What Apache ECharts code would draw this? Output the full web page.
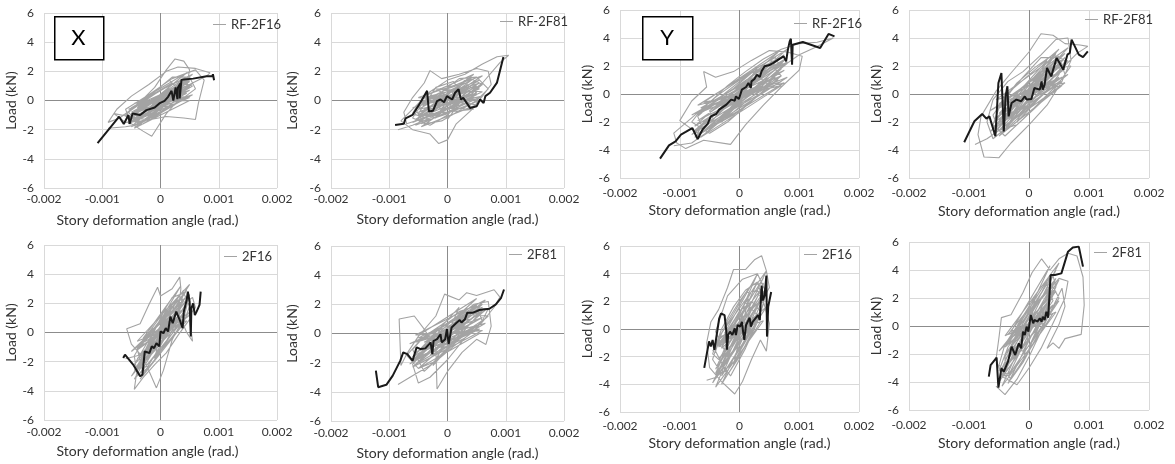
<!DOCTYPE html>
<html><head><meta charset="utf-8">
<script src="https://cdn.jsdelivr.net/npm/echarts@6/dist/echarts.min.js"></script>
<style>html,body{margin:0;padding:0;background:#fff}#c{width:1175px;height:464px}</style>
</head><body><div id="c"></div>
<script>
const xTicks = [-0.002, -0.001, 0, 0.001, 0.002];
const yTicks = [-6, -4, -2, 0, 2, 4, 6];
const seriesNames = ['RF-2F16', 'RF-2F81', 'RF-2F16', 'RF-2F81', '2F16', '2F81', '2F16', '2F81'];
const xTitle = 'Story deformation angle (rad.)';
const yTitle = 'Load (kN)';
const boxLabels = ['X', 'Y'];

// Panel 1: X, RF-2F16
const p1Black = [[-0.00108,-2.93],[-0.00071,-1.11],[-0.00063,-1.61],[-0.00055,-1.0],[-0.00053,-1.61],[-0.00048,-0.89],[-0.00035,-1.0],[-0.00024,-0.66],[-0.0001,-0.48],[-0.00002,-0.2],[0.00007,-0.02],[0.00013,0.25],[0.00019,0.66],[0.00022,0.0],[0.00026,0.89],[0.00029,0.09],[0.0003,0.89],[0.00034,1.16],[0.00033,0.14],[0.00036,1.43],[0.00056,1.5],[0.00079,1.66],[0.00089,1.66],[0.0009,1.8],[0.00092,1.39]];
const p1Grey = [[-0.0009,-1.9],[-0.0006,-1.8],[-0.0003,-1.6],[0,-0.9],[0.0003,0.2],[0.00055,1.2],[0.0008,1.7],[0.00085,1.9],[0.0006,2.2],[0.0003,2.3],[0.0001,2.0],[-0.0002,1.1],[-0.0005,0.3],[-0.00075,-0.6],[-0.0009,-1.5],
[-0.0007,-1.2],[-0.0004,-0.3],[-0.0001,0.9],[0.0001,2.1],[0.00025,2.85],[0.0004,2.7],[0.0005,2.1],[0.00045,1.0],[0.0003,0],[0.0001,-0.9],[-0.00015,-2.45],[-0.0003,-2.1],[-0.0005,-1.6],
[-0.0006,-0.6],[-0.0002,0.4],[0.0002,1.5],[0.0006,2.1],[0.00075,1.4],[0.00065,-0.2],[0.0006,-1.3],[0.0004,-1.2],[0.0001,-1.1],[-0.0003,-1.4],[-0.0006,-1.5],[-0.0008,-0.9],
[-0.0004,-1.2],[0.0003,0.9],[-0.0003,-0.4],[0.0004,0.5],[-0.0002,-1.0],[0.0002,1.2],[-0.0004,-0.2],[0.00045,0.2],[-0.0001,-0.6],[0.0002,0.6],[-0.00025,-0.9],[0.00035,1.1],[-0.0005,-0.8],[0.0001,0.3],[-0.00015,0.1],[0.00025,-0.3],[-0.00035,-0.7],[0.0005,1.4],
[-0.00045,-1.3],[-0.0001,-0.8],[0.0002,0.1],[0.0005,0.9],[0.0004,1.5],[0.0001,0.9],[-0.0002,0.2],[-0.0005,-0.5],[-0.0006,-1.1],[-0.0003,-1.0],[0,-0.3],[0.0003,0.4],[0.00055,1.0],[0.0003,1.3],[0,0.7],[-0.0003,-0.1],[-0.00055,-0.8],[-0.0004,-1.5],[-0.0001,-1.1],[0.0002,-0.4],[0.0004,0.2],[0.0006,0.8],[0.0005,1.6],[0.0002,1.6],[-0.0001,0.6],[-0.0004,-0.3],[-0.0006,-1.0],[-0.00035,-1.5],[0,-0.6],[0.00035,0.6],[0.00015,1.4],[-0.00015,0.5],[-0.0005,-1.2],[-0.0002,-1.3],[0.0001,-0.2],[0.0004,0.9],[0.0002,0.4],[-0.0002,-0.5],[-0.00045,-0.9],[0.00005,0.5],[0.0003,1.0],[-0.00005,-0.2],[0,0]];
const p1Core = [[-0.0005,-1.8],[0.0005,0.3],[-0.00045,-0.2],[0.00055,1.8],[-0.0005,-1.4],[0.0005,0.7],[-0.0004,-0.5],[0.0005,1.5],[-0.00055,-1.6],[0.00045,0.5],[-0.0005,-0.9],[0.00055,1.2],[-0.00045,-1.9],[0.0005,0.0],[-0.0004,-0.1],[0.00045,1.9],[-0.0005,-1.2],[0.0005,0.9],[-0.00055,-0.6],[0.0005,1.1],[-0.0004,-1.7],[0.00055,0.4],[-0.00045,-0.8],[0.00045,1.6],[-0.0005,-1.5],[0.0005,0.2],[-0.00045,-0.4],[0.0005,1.3],[0,0]];

// Panel 2: X, RF-2F81
const p2Black = [[-0.0009,-1.68],[-0.00075,-1.6],[-0.00072,-1.22],[-0.0006,-0.99],[-0.00047,-0.17],[-0.00035,0.66],[-0.00032,-0.75],[-0.00025,-0.71],[-0.00018,-0.05],[-0.00012,0.07],[-0.00006,-0.12],[-0.00001,0.3],[0.00008,0.07],[0.00013,0.53],[0.00019,0.77],[0.00023,0.07],[0.00027,0.18],[0.00039,-0.52],[0.0005,-0.4],[0.00056,0.07],[0.00062,-0.17],[0.00065,0.3],[0.00073,0.53],[0.00085,1.23],[0.00096,2.98]];
const p2Grey = [[-0.00085,-2.0],[-0.0006,-1.7],[-0.0003,-1.2],[0,-0.6],[0.0003,0.3],[0.0006,1.2],[0.0009,2.6],[0.00105,3.1],[0.00085,3.0],[0.0006,2.5],[0.0003,1.8],[0,1.4],[-0.0003,0.6],[-0.00055,-0.4],[-0.0008,-1.4],
[-0.0006,-2.0],[-0.0003,-2.3],[-0.00015,-2.95],[0,-2.7],[0.00015,-1.6],[0.0004,-0.7],[0.0006,0.3],[0.00075,1.1],[0.0007,2.0],[0.0005,2.2],[0.0002,1.8],[-0.0001,1.5],[-0.0003,2.05],[-0.0004,1.2],[-0.0006,0.2],[-0.00075,-0.8],[-0.0007,-1.6],
[-0.0004,-1.2],[0.0003,0.9],[-0.0003,0.3],[0.0004,-0.3],[-0.0002,-1.1],[0.0002,1.0],[-0.00045,-0.2],[0.0005,0.4],[-0.0001,-0.8],[0.0003,1.4],[-0.00025,-0.5],[0.00045,-0.6],[-0.0005,-1.0],[0.0001,0.8],[0,-1.3],[0.0002,-0.2],[-0.0002,0.8],[0.0006,0.6],
[-0.0005,-1.4],[-0.0002,-0.9],[0.0001,-0.3],[0.0004,0.4],[0.0006,1.1],[0.0004,1.5],[0.0001,1.0],[-0.0002,0.4],[-0.0005,-0.2],[-0.0006,-0.9],[-0.0003,-1.3],[0,-0.9],[0.0003,-0.2],[0.0005,0.6],[0.0003,1.2],[0,0.8],[-0.0003,0.1],[-0.00055,-0.6],[-0.0004,-1.6],[-0.0001,-1.4],[0.0002,-0.7],[0.0005,0],[0.0007,0.8],[0.0005,1.6],[0.0002,1.5],[-0.0001,0.6],[-0.0004,0],[-0.0006,-1.2],[-0.0003,-1.7],[0,-1.0],[0.0003,0.3],[0.0001,1.3],[-0.0002,0.9],[-0.0005,-0.9],[-0.0002,-1.2],[0.0001,0.2],[0.0004,1.0],[0.0002,0.5],[-0.0002,-0.5],[-0.0004,-0.6],[0.0001,0.4],[0.0003,0.8],[0,-0.3],[0,0]];
const p2Core = [[-0.00055,-1.7],[0.00055,0.0],[-0.0005,0.2],[0.0006,1.7],[-0.00055,-1.3],[0.0005,0.5],[-0.00045,-0.3],[0.00055,1.4],[-0.0006,-1.5],[0.00045,0.2],[-0.0005,-0.8],[0.0006,1.1],[-0.00045,-1.8],[0.0005,-0.3],[-0.0004,0.3],[0.00045,1.8],[-0.0005,-1.1],[0.00055,0.8],[-0.0006,-0.5],[0.0005,1.0],[-0.00045,-1.6],[0.0006,0.3],[-0.0005,-0.6],[0.00045,1.5],[-0.00055,-1.4],[0.0005,0.1],[-0.00045,-0.1],[0.00055,1.2],[0,0]];

// Panel 3: Y, RF-2F16
const p3Black = [[-0.00133,-4.62],[-0.00118,-3.67],[-0.00107,-3.38],[-0.00098,-2.9],[-0.0009,-2.71],[-0.00079,-2.43],[-0.0007,-3.21],[-0.00062,-2.55],[-0.00053,-2.12],[-0.00048,-1.6],[-0.00039,-1.43],[-0.00034,-1.12],[-0.00022,-0.76],[-0.00014,-0.4],[-0.00008,-0.48],[-0.00006,-0.17],[-0.00001,-0.36],[0.00004,0.31],[0.00011,0.5],[0.00015,0.79],[0.00019,0.43],[0.0002,0.9],[0.00025,1.07],[0.00029,1.38],[0.00034,1.21],[0.00037,1.62],[0.00042,1.98],[0.00049,2.05],[0.00056,2.21],[0.00065,2.45],[0.00074,2.69],[0.00078,2.33],[0.00081,3.17],[0.00084,3.76],[0.00086,3.95],[0.00088,2.1],[0.00089,3.52],[0.00106,3.71],[0.00135,3.29],[0.00149,4.29],[0.00159,4.12]];
const p3Grey = [[-0.0011,-3.7],[-0.0008,-3.5],[-0.0005,-2.6],[-0.0002,-1.5],[0.0001,-0.3],[0.0004,0.8],[0.0007,1.9],[0.001,2.8],[0.0013,3.4],[0.00157,4.0],[0.0013,3.7],[0.001,3.6],[0.0007,3.2],[0.0004,2.5],[0.0001,1.6],[-0.0002,0.6],[-0.0005,-0.6],[-0.0008,-1.7],[-0.0011,-2.8],[-0.00105,-3.5],
[-0.0009,-3.9],[-0.0006,-3.3],[-0.00015,-3.6],[0.0001,-2.2],[0.0004,-0.8],[0.0007,0.5],[0.001,1.7],[0.00105,2.7],[0.0008,3.0],[0.0005,3.1],[0.0002,2.4],[-0.0001,1.6],[-0.0004,1.2],[-0.0006,1.6],[-0.00055,0.5],[-0.0008,-0.5],[-0.001,-1.9],[-0.0007,-2.8],
[-0.0006,-2.0],[0.0005,1.8],[-0.0004,-1.0],[0.0006,1.2],[-0.0003,-2.0],[0.0003,1.9],[-0.0007,-1.5],[0.0007,2.2],[-0.0002,-0.4],[0.0004,0.6],[-0.0005,-1.7],[0.0002,0.9],[-0.0001,-1.1],[0.0008,2.6],[-0.00035,-0.3],[0.00015,0.2],[-0.00045,-2.4],[0.00055,2.4],
[-0.0007,-2.9],[-0.0004,-2.0],[-0.0001,-1.0],[0.0002,0],[0.0005,1.0],[0.0007,1.8],[0.0006,2.6],[0.0003,1.9],[0,1.0],[-0.0003,0.1],[-0.0006,-0.9],[-0.0008,-2.0],[-0.0005,-2.8],[-0.0002,-2.0],[0.0001,-0.9],[0.0004,0.2],[0.0007,1.3],[0.0005,2.2],[0.0002,1.5],[-0.0001,0.4],[-0.0004,-0.5],[-0.0007,-1.6],[-0.0006,-2.6],[-0.0003,-1.9],[0,-0.5],[0.0003,0.5],[0.0006,1.5],[0.0008,2.2],[0.0004,2.0],[0.0001,0.8],[-0.0002,-0.2],[-0.0005,-1.2],[-0.0004,-2.2],[-0.0001,-1.5],[0.0002,-0.5],[0.0005,0.6],[0.0003,1.3],[-0.0001,0.1],[-0.0004,-1.4],[0.0001,0.3],[0.0004,1.5],[-0.0003,-0.9],[0,0]];
const p3Core = [[-0.00075,-3.1],[0.00075,0.8],[-0.0007,-0.8],[0.0008,3.2],[-0.00075,-2.6],[0.0007,1.3],[-0.00065,-1.2],[0.00075,2.8],[-0.0008,-2.9],[0.00065,1.0],[-0.0007,-1.9],[0.0008,2.3],[-0.00065,-3.1],[0.0007,0.6],[-0.0006,-0.6],[0.00065,3.0],[-0.00075,-2.3],[0.00075,1.7],[-0.0008,-1.5],[0.0007,2.1],[-0.00065,-2.8],[0.0008,1.2],[-0.0007,-1.4],[0.00065,2.6],[-0.00075,-2.7],[0.0007,0.9],[-0.00065,-1.0],[0.00075,2.4],[0,0]];

// Panel 4: Y, RF-2F81
const p4Black = [[-0.00108,-3.45],[-0.00091,-1.95],[-0.00078,-1.43],[-0.00071,-1.76],[-0.00066,-1.6],[-0.00056,-3.02],[-0.00051,0.79],[-0.00046,1.5],[-0.00042,-2.67],[-0.00039,-0.17],[-0.00036,0.55],[-0.00034,-1.6],[-0.00029,-0.64],[-0.00021,-0.4],[-0.00013,-0.52],[-0.00007,-0.17],[-0.00004,-0.4],[0.00004,-0.36],[0.00009,0.43],[0.00018,0.31],[0.00021,0.9],[0.00023,0.31],[0.00026,0.67],[0.0003,1.86],[0.00037,1.26],[0.00046,2.57],[0.00051,2.21],[0.00057,1.74],[0.00064,2.81],[0.00068,2.93],[0.00071,3.88],[0.00083,2.81],[0.0009,2.64],[0.00098,3.05]];
const p4Grey = [[-0.0009,-3.6],[-0.0007,-3.2],[-0.0004,-2.3],[-0.0001,-1.2],[0.0002,0.2],[0.0005,1.6],[0.0008,2.9],[0.00098,3.4],[0.00085,3.5],[0.0006,3.6],[0.0004,4.2],[0.0002,4.3],[0,3.0],[-0.0003,1.5],[-0.00055,0.2],[-0.0008,-1.6],[-0.00085,-2.9],
[-0.00075,-4.5],[-0.0005,-4.55],[-0.0003,-3.5],[0,-2.2],[0.0003,-0.8],[0.00055,0.9],[0.0007,2.4],[0.00065,4.0],[0.00045,3.9],[0.0002,2.8],[-0.0001,1.6],[-0.00035,0.9],[-0.0006,-0.4],[-0.0007,-2.0],[-0.0006,-3.2],
[-0.0004,-2.5],[0.0004,1.9],[-0.0003,-0.8],[0.0005,1.2],[-0.0002,-2.0],[0.0003,2.4],[-0.0005,-1.4],[0.0002,0.3],[-0.0001,-0.2],[0.0006,2.6],[-0.00035,-2.2],[0.0001,1.1],[-0.00025,-1.2],[0.00035,0.4],[-0.00045,-2.8],[0.00045,2.9],
[-0.0006,-2.9],[-0.0003,-2.0],[0,-0.9],[0.0003,0.3],[0.0005,1.4],[0.0006,2.4],[0.0004,2.8],[0.0001,1.9],[-0.0002,0.8],[-0.0004,-0.3],[-0.0006,-1.5],[-0.0005,-2.6],[-0.0002,-2.2],[0.0001,-1.0],[0.0004,0.2],[0.0006,1.4],[0.0005,2.6],[0.0002,2.6],[-0.0001,1.2],[-0.0003,0.2],[-0.0005,-1.0],[-0.0006,-2.2],[-0.0004,-3.0],[-0.0001,-1.8],[0.0002,-0.5],[0.0005,0.8],[0.0007,2.0],[0.0003,1.7],[0,0.6],[-0.0003,-0.7],[-0.0005,-1.9],[-0.0002,-1.2],[0.0001,0.1],[0.0004,1.4],[0.0002,1.0],[-0.0002,-0.4],[-0.0004,-1.6],[0.0001,-0.3],[0.0003,0.8],[-0.0001,0.5],[0,0]];
const p4Core = [[-0.0006,-2.9],[0.0006,0.8],[-0.00055,-0.4],[0.00065,3.3],[-0.0006,-2.4],[0.00055,1.2],[-0.0005,-0.9],[0.0006,2.9],[-0.00065,-2.7],[0.0005,1.1],[-0.00055,-1.7],[0.00065,2.4],[-0.0005,-3.0],[0.00055,0.6],[-0.00045,-0.3],[0.0005,3.2],[-0.0006,-2.1],[0.0006,1.8],[-0.00065,-1.2],[0.00055,2.2],[-0.0005,-2.6],[0.00065,1.4],[-0.00055,-1.1],[0.0005,2.7],[-0.0006,-2.5],[0.00055,0.9],[-0.0005,-0.7],[0.0006,2.6],[0,0]];

// Panel 5: X, 2F16
const p5Black = [[-0.00064,-1.75],[-0.00061,-1.52],[-0.00047,-2.2],[-0.00035,-3.0],[-0.00031,-2.89],[-0.00027,-1.3],[-0.00024,-1.18],[-0.00019,-1.41],[-0.00015,-0.95],[-0.00011,-1.07],[-0.00007,-0.73],[-0.00002,-0.95],[0,0.07],[0.00005,-0.05],[0.00009,0.3],[0.00013,0.07],[0.00017,1.09],[0.00021,0.64],[0.00023,0.75],[0.00027,1.43],[0.00033,0.86],[0.00036,0.86],[0.00038,0.3],[0.0004,1.43],[0.00045,2.23],[0.00047,2.8],[0.0005,2.11],[0.00052,-0.27],[0.00053,1.66],[0.00056,2.0],[0.00059,1.2],[0.00062,1.43],[0.00067,1.89],[0.00069,2.8]];
const p5Grey = [[-0.0006,-1.8],[-0.0004,-1.6],[-0.0002,-1.0],[0,0],[0.0002,1.0],[0.0004,2.0],[0.00055,2.4],[0.0006,1.7],[0.0005,1.2],[0.00035,0.7],[0.0001,0],[-0.00015,-1.2],[-0.0004,-2.5],[-0.00045,-3.9],[-0.0003,-3.1],[-0.0001,-2.2],[0.0001,-1.4],[0.0003,-0.2],[0.0005,0.9],[0.00055,-0.6],[0.00045,0],[0.0003,1.4],[0.00035,3.0],[0.00033,3.8],[0.0002,3.0],[0,2.5],[-0.00005,3.1],[-0.0002,1.9],[-0.00035,0.6],[-0.00058,0.25],[-0.0005,-0.8],[-0.0003,-1.7],[-0.00007,-3.8],[0.00005,-2.6],[0.0002,-0.5],[0.0004,1.0],[0.0005,2.6],
[-0.0002,-1.6],[0.0002,1.5],[-0.0003,-0.4],[0.0003,0.5],[-0.0001,-1.8],[0.0001,1.8],[-0.00025,-1.1],[0.00025,2.0],[0,-0.8],[0.00015,0.6],[-0.00035,-2.0],[0.0004,1.6],[-0.00015,0.2],[0.00005,-0.4],
[-0.0004,-2.6],[-0.0002,-1.7],[0,-0.8],[0.0002,0.3],[0.0004,1.4],[0.00045,2.3],[0.0003,2.2],[0.0001,1.3],[-0.0001,0.3],[-0.0003,-0.6],[-0.00045,-1.6],[-0.0004,-2.9],[-0.0002,-2.4],[0,-1.3],[0.0002,-0.3],[0.0004,0.7],[0.0005,1.8],[0.0004,2.7],[0.0002,2.4],[0,1.1],[-0.0002,0],[-0.0004,-1.1],[-0.0003,-2.8],[-0.0001,-1.9],[0.0001,-0.6],[0.0003,0.9],[0.0004,2.9],[0.0002,1.9],[0,0.3],[-0.0002,-0.9],[-0.00035,-2.1],[-0.0001,-1.0],[0.0001,0.4],[0.0003,1.7],[0.0001,0.9],[-0.0001,-0.5],[-0.0003,-1.4],[0.0001,-0.1],[0.0002,1.0],[-0.0002,-0.3],[0,0]];
const p5Core = [[-0.00045,-3.2],[0.00045,0.8],[-0.0004,-0.6],[0.0005,3.3],[-0.00045,-2.7],[0.0004,1.2],[-0.00035,-1.0],[0.00045,2.9],[-0.0005,-3.0],[0.00035,1.0],[-0.0004,-1.8],[0.0005,2.4],[-0.00035,-3.2],[0.0004,0.6],[-0.0003,-0.4],[0.00035,3.2],[-0.00045,-2.2],[0.00045,1.8],[-0.0005,-1.3],[0.0004,2.2],[-0.00035,-2.8],[0.0005,1.4],[-0.0004,-1.2],[0.00035,2.7],[-0.00045,-2.6],[0.0004,0.9],[-0.00035,-0.8],[0.00045,2.5],[0,0]];

// Panel 6: X, 2F81
const p6Black = [[-0.00123,-2.55],[-0.00119,-3.68],[-0.00105,-3.52],[-0.00094,-2.89],[-0.00081,-1.86],[-0.00076,-1.3],[-0.00069,-1.41],[-0.0006,-1.86],[-0.00053,-0.95],[-0.00046,-1.07],[-0.00038,-1.02],[-0.00029,-0.61],[-0.00026,-1.41],[-0.00024,-0.5],[-0.00018,-0.39],[-0.00012,-0.05],[-0.0001,-0.61],[-0.00004,-0.39],[-0.00001,0.3],[0.00002,-0.73],[0.00007,0.41],[0.00016,0.75],[0.00021,0.93],[0.00024,0.75],[0.0003,0.98],[0.00034,1.43],[0.00044,1.43],[0.00055,1.61],[0.00072,1.7],[0.00083,2.0],[0.00092,2.45],[0.00097,3.02]];
const p6Grey = [[-0.00085,-3.5],[-0.0006,-2.9],[-0.0003,-2.2],[0,-1.0],[0.0003,0],[0.0006,0.8],[0.0008,1.8],[0.0009,2.5],[0.0008,3.0],[0.0005,2.6],[0.00033,2.8],[0.0002,2.3],[-0.00005,2.7],[-0.0002,1.2],[-0.0005,-0.2],[-0.0007,-1.4],[-0.0008,-2.2],[-0.00083,1.0],[-0.00057,1.2],[-0.0004,0.3],[-0.0002,-1.0],[-0.00018,-3.8],[0,-2.6],[0.00025,-1.3],[0.0005,-0.4],[0.00066,-0.75],[0.00075,0.5],[0.0007,2.2],[0.00045,2.0],[0.0002,1.2],[-0.0001,0.4],[-0.0004,-1.3],[-0.0006,-2.1],[-0.0005,-3.4],[-0.0003,-3.0],[0,-1.8],[0.0003,-0.3],
[-0.0003,-1.5],[0.0004,1.3],[-0.0004,-0.6],[0.0003,0.4],[-0.0002,-1.9],[0.0002,1.8],[-0.0005,-1.2],[0.0005,0.9],[-0.0001,-0.4],[0.0001,0.6],[-0.00025,-2.2],[0.0006,1.6],
[-0.0006,-2.3],[-0.0003,-1.7],[0,-0.9],[0.0003,0.1],[0.0006,0.9],[0.0007,1.7],[0.0004,1.8],[0.0001,1.0],[-0.0002,0.2],[-0.0005,-0.6],[-0.0007,-1.5],[-0.0005,-2.4],[-0.0002,-1.9],[0.0001,-0.9],[0.0004,0],[0.0006,0.8],[0.0005,1.9],[0.0002,1.5],[-0.0001,0.6],[-0.0004,-0.2],[-0.0006,-1.1],[-0.0004,-2.6],[-0.0001,-1.5],[0.0002,-0.4],[0.0005,0.5],[0.0007,1.2],[0.0003,1.3],[0,0.4],[-0.0003,-0.4],[-0.0005,-1.6],[-0.0002,-1.2],[0.0001,0.1],[0.0004,1.0],[0.0002,0.8],[-0.0002,-0.7],[-0.0004,-1.2],[0.0001,-0.3],[0.0003,0.6],[-0.0001,0],[0,0]];
const p6Core = [[-0.0006,-2.3],[0.0006,0.2],[-0.00055,-0.1],[0.00065,2.3],[-0.0006,-1.9],[0.00055,0.6],[-0.0005,-0.5],[0.0006,2.0],[-0.00065,-2.1],[0.0005,0.5],[-0.00055,-1.3],[0.00065,1.6],[-0.0005,-2.4],[0.00055,0.0],[-0.00045,0.0],[0.0005,2.4],[-0.0006,-1.6],[0.0006,1.1],[-0.00065,-0.7],[0.00055,1.5],[-0.0005,-2.0],[0.00065,0.7],[-0.00055,-0.6],[0.0005,1.9],[-0.0006,-1.8],[0.00055,0.3],[-0.0005,-0.3],[0.0006,1.8],[0,0]];

// Panel 7: Y, 2F16
const p7Black = [[-0.00059,-2.81],[-0.00051,-0.9],[-0.00048,-1.26],[-0.00045,-0.79],[-0.00042,-1.5],[-0.00039,-0.67],[-0.00034,0.76],[-0.00031,1.12],[-0.00025,1.0],[-0.00022,-0.19],[-0.00021,-1.5],[-0.00019,-0.43],[-0.00016,-0.19],[-0.00012,-0.43],[-0.00008,0.05],[-0.00006,-0.43],[-0.00003,0.29],[0.00001,0.17],[0.00004,0.52],[0.00006,-0.19],[0.00008,-0.79],[0.00011,0.29],[0.00017,0.81],[0.00019,0.17],[0.00022,0.52],[0.00031,1.0],[0.00034,0.64],[0.00037,3.14],[0.00039,2.07],[0.00042,2.43],[0.00045,3.86],[0.00046,-0.55],[0.00048,1.6],[0.00053,2.67]];
const p7Grey = [[-0.00055,-3.7],[-0.0004,-3.5],[-0.0002,-2.8],[0,-1.5],[0.0002,0.2],[0.00035,1.8],[0.0005,3.0],[0.00045,4.2],[0.00037,5.3],[0.00025,5.0],[0.0001,4.3],[-0.0001,4.3],[-0.0002,3.0],[-0.00035,1.4],[-0.00048,0.5],[-0.00055,-1.0],[-0.0005,-2.8],[-0.0003,-3.8],[-0.00008,-4.7],[0.00005,-3.8],[0.0002,-2.2],[0.00035,-0.8],[0.00045,-1.6],[0.0005,0.4],[0.0004,2.0],[0.0003,3.4],[0.0001,2.8],[-0.0001,1.6],[-0.0003,0],[-0.00045,-1.8],[-0.0003,-2.4],[-0.00015,-3.4],[0.0001,-1.4],[0.0003,0.5],[0.00045,2.6],[0.0003,4.0],[0.00005,3.6],[-0.0002,2.4],[-0.0004,-0.2],
[-0.0002,-2.0],[0.0002,1.6],[-0.0003,-1.0],[0.00025,0.6],[-0.0001,-2.6],[0.00015,2.2],[-0.00025,-0.4],[0.00035,1.1],[-0.00005,-1.2],[0.00005,1.0],[-0.00035,-2.6],[0.0004,2.4],
[-0.0004,-3.3],[-0.0002,-2.2],[0,-0.8],[0.0002,0.9],[0.00035,2.2],[0.0004,3.3],[0.0002,3.2],[0,2.0],[-0.0002,0.6],[-0.00035,-0.8],[-0.00045,-2.2],[-0.0003,-3.2],[-0.0001,-2.4],[0.0001,-0.9],[0.0003,0.6],[0.0004,1.8],[0.0003,2.8],[0.0001,2.6],[-0.0001,1.1],[-0.0003,-0.3],[-0.0004,-1.6],[-0.0002,-3.3],[0,-2.0],[0.0002,-0.3],[0.00035,1.3],[0.0002,2.0],[0,1.3],[-0.0002,-0.2],[-0.0004,-1.0],[-0.0002,-1.6],[0.0001,0.2],[0.0003,1.0],[0.0001,1.9],[-0.0001,0.3],[-0.0003,-1.4],[-0.0001,-0.6],[0.0002,0.5],[0,0]];
const p7Core = [[-0.0004,-4.2],[0.0004,0.6],[-0.00035,-0.6],[0.00045,4.2],[-0.0004,-3.6],[0.00035,1.2],[-0.0003,-1.2],[0.0004,3.7],[-0.00045,-3.9],[0.0003,1.0],[-0.00035,-2.2],[0.00045,3.0],[-0.0003,-4.0],[0.00035,0.5],[-0.00025,-0.3],[0.0003,4.0],[-0.0004,-2.9],[0.0004,2.3],[-0.00045,-1.6],[0.00035,2.8],[-0.0003,-3.4],[0.00045,1.6],[-0.00035,-1.3],[0.0003,3.4],[-0.0004,-3.2],[0.00035,1.0],[-0.0003,-0.9],[0.0004,3.1],[0,0]];

// Panel 8: Y, 2F81
const p8Black = [[-0.00067,-3.62],[-0.00064,-2.79],[-0.00054,-2.26],[-0.00051,-4.4],[-0.00046,-3.02],[-0.00042,-3.26],[-0.00035,-2.55],[-0.00029,-1.48],[-0.00023,-2.07],[-0.00017,-1.24],[-0.00013,-1.6],[-0.0001,-0.4],[-0.00007,-0.64],[-0.00004,-0.05],[-0.00001,-0.4],[0.00003,0.79],[0.00007,0.19],[0.00009,0.43],[0.00014,0.31],[0.00018,0.55],[0.00021,0.31],[0.00023,0.67],[0.00026,0.43],[0.00029,1.02],[0.00032,0.6],[0.00034,0.67],[0.00036,3.64],[0.00043,3.64],[0.00054,3.76],[0.00065,5.31],[0.00073,5.6],[0.00083,5.67],[0.0009,4.24]];
const p8Grey = [[-0.00055,-4.3],[-0.0004,-4.9],[-0.0002,-3.8],[0,-2.2],[0.0002,-0.4],[0.0004,1.4],[0.00055,2.7],[0.0006,1.4],[0.0005,0.1],[0.0003,-1.6],[0.0004,-1.2],[0.0005,-1.6],[0.0006,-0.9],[0.00087,-0.6],[0.00092,1.5],[0.0009,3.5],[0.0008,5.0],[0.00065,5.2],[0.0005,4.8],[0.00035,4.0],[0.00021,4.8],[0.00005,3.8],[-0.0001,2.4],[-0.0003,0.8],[-0.00046,0.6],[-0.0005,-0.8],[-0.00055,-2.4],[-0.00045,-3.6],[-0.0002,-4.2],[0,-3.0],[0.0002,-1.6],[0.0004,0.2],[0.0006,2.0],[0.00065,3.2],[0.0005,3.4],[0.0003,2.4],[0.0001,1.4],[-0.0001,0],[-0.00035,-1.5],[-0.0005,-3.2],
[-0.0003,-2.4],[0.0003,1.6],[-0.0002,-1.0],[0.0004,2.2],[-0.0001,-2.6],[0.0001,1.8],[-0.00035,-0.6],[0.00025,0.2],[0,-1.5],[0.00045,2.8],[-0.0004,-2.0],[0.0002,1.0],
[-0.0005,-3.8],[-0.0003,-2.8],[-0.0001,-1.4],[0.0001,0.2],[0.0003,1.6],[0.00045,2.8],[0.0004,3.6],[0.0002,2.8],[0,1.4],[-0.0002,0],[-0.0004,-1.3],[-0.0005,-2.8],[-0.0003,-3.8],[-0.0001,-2.6],[0.0001,-1.0],[0.0003,0.6],[0.0005,2.0],[0.0004,2.8],[0.0002,2.0],[0,0.6],[-0.0002,-0.8],[-0.0004,-2.2],[-0.0004,-3.6],[-0.0002,-2.8],[0,-1.0],[0.0002,0.6],[0.0004,1.8],[0.0003,3.0],[0.0001,1.6],[-0.0001,0.2],[-0.0003,-1.4],[-0.0001,-1.8],[0.0001,-0.2],[0.0003,1.0],[0.0001,0.9],[-0.0002,-1.5],[0,-0.4],[0.0002,1.2],[0,0]];
const p8Core = [[-0.00045,-4.3],[0.00045,1.0],[-0.0004,-0.7],[0.0005,4.5],[-0.00045,-3.7],[0.0004,1.5],[-0.00035,-1.3],[0.00045,4.0],[-0.0005,-4.0],[0.00035,1.3],[-0.0004,-2.4],[0.0005,3.3],[-0.00035,-4.1],[0.0004,0.9],[-0.0003,-0.4],[0.00035,4.3],[-0.00045,-3.0],[0.00045,2.5],[-0.0005,-1.8],[0.0004,3.0],[-0.00035,-3.6],[0.0005,1.8],[-0.0004,-1.5],[0.00035,3.6],[-0.00045,-3.3],[0.0004,1.2],[-0.00035,-1.0],[0.00045,3.4],[0,0]];

const greyData = [p1Grey.concat(p1Core), p2Grey.concat(p2Core), p3Grey.concat(p3Core), p4Grey.concat(p4Core),
                  p5Grey.concat(p5Core), p6Grey.concat(p6Core), p7Grey.concat(p7Core), p8Grey.concat(p8Core)];
const blackData = [p1Black, p2Black, p3Black, p4Black, p5Black, p6Black, p7Black, p8Black];

// layout (pixels)
const layout = [
  {l:44,  t:13,  w:233, h:175, xm:5,  xg:25, yg:26, lg:[213,18], np:26},
  {l:331, t:13,  w:233, h:175, xm:5,  xg:24, yg:32, lg:[500,15], np:0},
  {l:620, t:10,  w:239, h:168, xm:9,  xg:25, yg:25, lg:[794,17], np:0},
  {l:909, t:10,  w:240, h:168, xm:9,  xg:26, yg:24, lg:[1085,13], np:0},
  {l:44,  t:245, w:233, h:175, xm:6,  xg:24, yg:26, lg:[224,250], np:26},
  {l:331, t:246, w:233, h:175, xm:6,  xg:25, yg:32, lg:[509,248], np:0},
  {l:620, t:246, w:239, h:166, xm:8,  xg:24, yg:25, lg:[804,248], np:0},
  {l:909, t:242, w:240, h:168, xm:9,  xg:26, yg:24, lg:[1094,246], np:0}
];
const boxes = [{x:54, y:16, w:49, h:43, label:boxLabels[0]}, {x:642, y:16, w:50, h:43, label:boxLabels[1]}];

const FONT = 'Lato';
const GRID_C = '#d9d9d9', ZERO_C = '#8c8c8c';
const GREY = '#a3a3a3';
const xColors = xTicks.map(v => v === 0 ? ZERO_C : GRID_C);
const yColors = yTicks.map(v => v === 0 ? ZERO_C : GRID_C);

const grid = [], xAxis = [], yAxis = [], series = [], legend = [], graphic = [];
layout.forEach((L, i) => {
  grid.push({left:L.l, top:L.t, width:L.w, height:L.h, containLabel:false});
  xAxis.push({
    type:'value', gridIndex:i, min:xTicks[0], max:xTicks[xTicks.length-1], interval:0.001,
    axisLine:{show:false, onZero:false}, axisTick:{show:false},
    splitLine:{show:true, lineStyle:{color:xColors, width:1}},
    axisLabel:{margin:L.xm, fontSize:12, fontFamily:FONT, color:'#333',
      formatter: v => Math.abs(v) < 1e-9 ? '0' : v.toFixed(3)},
    name:xTitle, nameLocation:'middle', nameGap:L.xg,
    nameTextStyle:{fontSize:14, fontFamily:FONT, color:'#333', padding:[0, L.np, 0, 0]}
  });
  yAxis.push({
    type:'value', gridIndex:i, min:yTicks[0], max:yTicks[yTicks.length-1], interval:2,
    axisLine:{show:false, onZero:false}, axisTick:{show:false},
    splitLine:{show:true, lineStyle:{color:yColors, width:1}},
    axisLabel:{margin:10, fontSize:12, fontFamily:FONT, color:'#333'},
    name:yTitle, nameLocation:'middle', nameGap:L.yg,
    nameTextStyle:{fontSize:14, fontFamily:FONT, color:'#333'}
  });
  series.push({
    type:'line', name:seriesNames[i], xAxisIndex:i, yAxisIndex:i, data:greyData[i],
    symbol:'none', lineStyle:{color:GREY, width:1.1}, itemStyle:{color:GREY},
    z:2, animation:false, silent:true
  });
  series.push({
    type:'line', name:'skeleton' + (i+1), xAxisIndex:i, yAxisIndex:i, data:blackData[i],
    symbol:'none', lineStyle:{color:'#1a1a1a', width:2}, itemStyle:{color:'#1a1a1a'},
    z:3, animation:false, silent:true
  });
  legend.push({
    data:[seriesNames[i]], left:L.lg[0], top:L.lg[1], padding:0, icon:'rect', itemWidth:13, itemHeight:1,
    itemStyle:{color:GREY},
    selectedMode:false, textStyle:{fontSize:13, fontFamily:FONT, color:'#333'}
  });
});
boxes.forEach(b => {
  graphic.push({type:'rect', left:b.x, top:b.y, z:10,
    shape:{width:b.w, height:b.h}, style:{fill:'#fff', stroke:'#000', lineWidth:1.5}});
  graphic.push({type:'text', x:b.x + b.w/2, y:b.y + b.h/2, z:11,
    style:{text:b.label, font:'22px ' + FONT, fill:'#000', align:'center', verticalAlign:'middle'}});
});

const chart = echarts.init(document.getElementById('c'), null, {renderer:'canvas'});
chart.setOption({animation:false, backgroundColor:'#fff', grid, xAxis, yAxis, series, legend, graphic});
</script></body></html>
